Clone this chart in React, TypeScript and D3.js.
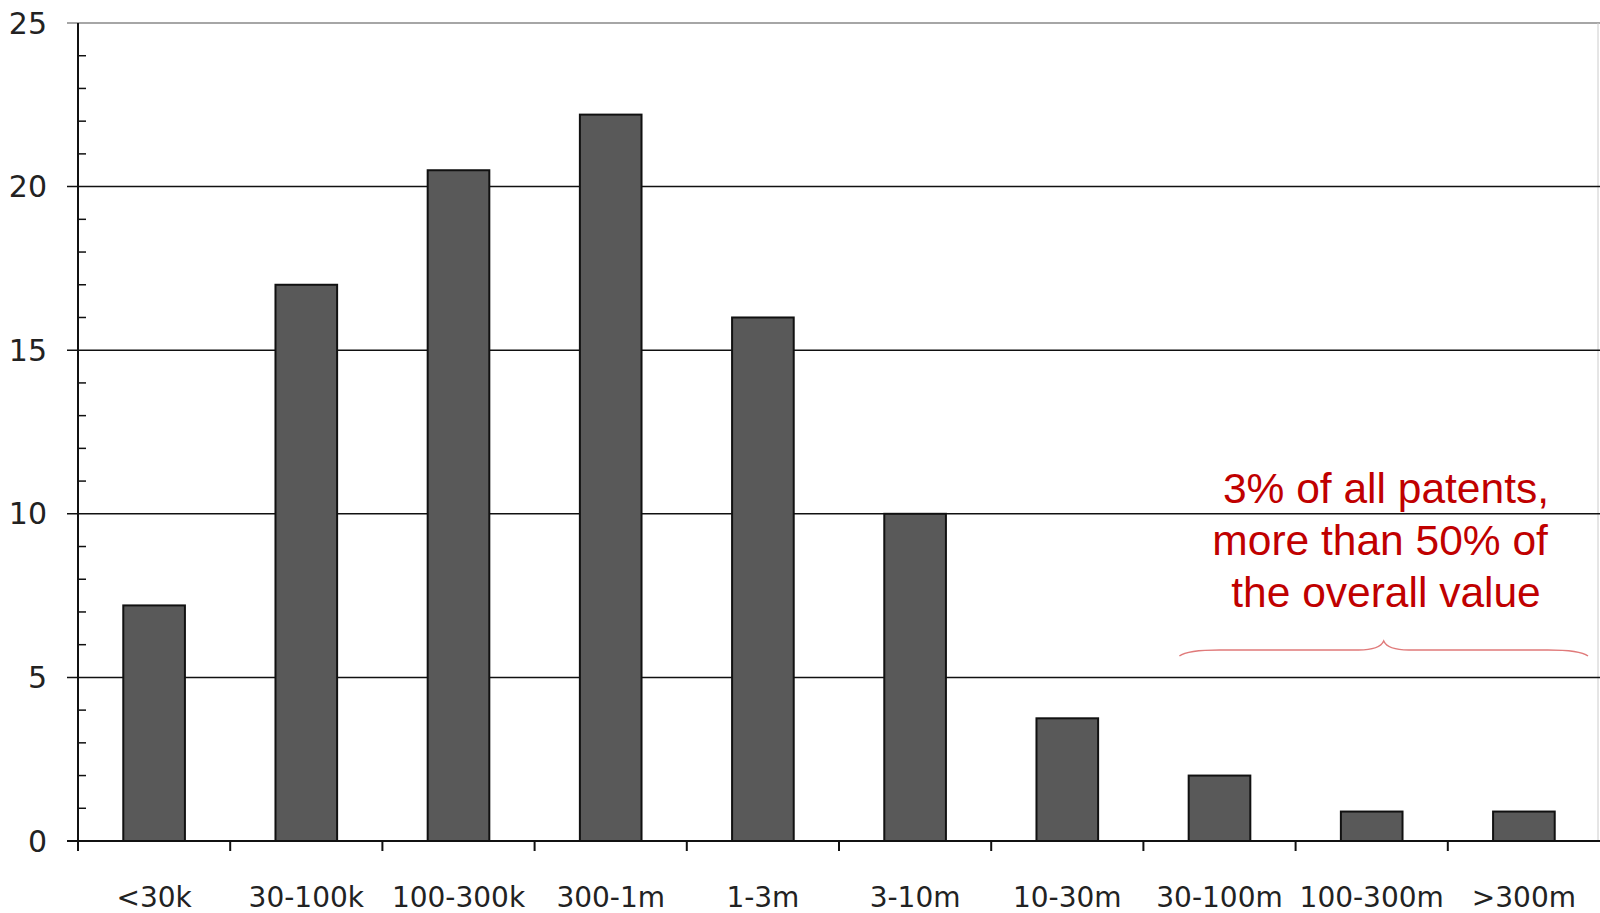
import React from "react";
import * as d3 from "d3";

const categories = ["<30k", "30-100k", "100-300k", "300-1m", "1-3m", "3-10m", "10-30m", "30-100m", "100-300m", ">300m"];
const values = [7.2, 17, 20.5, 22.2, 16, 10, 3.75, 2.0, 0.9, 0.9];
const majorTicks = [0, 5, 10, 15, 20, 25];
const minorTicks = d3.range(0, 26, 1).filter((v) => v % 5 !== 0);
const annotationLines = ["3% of all patents,", "more than 50% of ", "the overall value"];

const W = 1600;
const H = 913;
const left = 78;
const right = 1600;
const top = 23;
const bottom = 841;

export default function App() {
  const x = d3.scaleBand<string>().domain(categories).range([left, right]).paddingInner(0).paddingOuter(0);
  const y = d3.scaleLinear().domain([0, 25]).range([bottom, top]);
  const bw = x.bandwidth() * 0.405;
  const font = "'DejaVu Sans', Verdana, sans-serif";
  const annFont = "Arial, 'Liberation Sans', sans-serif";

  const braceL = x(categories[7])! + 36;
  const braceR = right - 12;
  const braceMid = (braceL + braceR) / 2;
  const by = 650;
  const bracePath = `M${braceL},${by + 6} Q${braceL + 8},${by} ${braceL + 40},${by} L${braceMid - 25},${by} Q${braceMid - 4},${by} ${braceMid},${by - 9} Q${braceMid + 4},${by} ${braceMid + 25},${by} L${braceR - 40},${by} Q${braceR - 8},${by} ${braceR},${by + 6}`;

  return (
    <svg width={W} height={H} style={{ position: "absolute", left: 0, top: 0, background: "#fff" }} fontFamily={font}>
      {/* plot border top and right */}
      <line x1={67} x2={right} y1={y(25)} y2={y(25)} stroke="#888" strokeWidth={1.5} />
      <line x1={right - 2} x2={right - 2} y1={top} y2={bottom} stroke="#ccc" strokeWidth={1} />
      {/* gridlines */}
      {majorTicks.filter((t) => t > 0 && t < 25).map((t) => (
        <line key={"g" + t} x1={67} x2={right} y1={y(t)} y2={y(t)} stroke="#111" strokeWidth={1.5} />
      ))}
      {/* minor ticks */}
      {minorTicks.map((t) => (
        <line key={"m" + t} x1={left} x2={left + 8} y1={y(t)} y2={y(t)} stroke="#111" strokeWidth={1.5} />
      ))}
      {/* y tick labels */}
      {majorTicks.map((t) => (
        <text key={"yl" + t} x={47} y={y(t)} textAnchor="end" dominantBaseline="central" fontSize={30} fill="#222">
          {t}
        </text>
      ))}
      {/* bars */}
      {values.map((v, i) => {
        const c = categories[i];
        const cx = x(c)! + x.bandwidth() / 2;
        return (
          <rect key={c} x={cx - bw / 2} y={y(v)} width={bw} height={y(0) - y(v)} fill="#595959" stroke="#111" strokeWidth={2} />
        );
      })}
      {/* axes */}
      <line x1={left} x2={left} y1={top} y2={bottom + 10} stroke="#111" strokeWidth={2} />
      <line x1={67} x2={right} y1={bottom} y2={bottom} stroke="#111" strokeWidth={2} />
      {categories.map((c, i) => (
        <line key={"xt" + i} x1={x(c)!} x2={x(c)!} y1={bottom} y2={bottom + 10} stroke="#111" strokeWidth={2} />
      ))}
      {/* x labels */}
      {categories.map((c) => (
        <text key={"xl" + c} x={x(c)! + x.bandwidth() / 2} y={907} textAnchor="middle" fontSize={28} fill="#222">
          {c}
        </text>
      ))}
      {/* annotation */}
      {annotationLines.map((l, i) => (
        <text key={"a" + i} x={1386} y={503 + i * 52} textAnchor="middle" fontSize={42.5} fill="#C00000" fontFamily={annFont} style={{ whiteSpace: "pre" }}>
          {l}
        </text>
      ))}
      <path d={bracePath} fill="none" stroke="#E07A7A" strokeWidth={1.5} />
    </svg>
  );
}
